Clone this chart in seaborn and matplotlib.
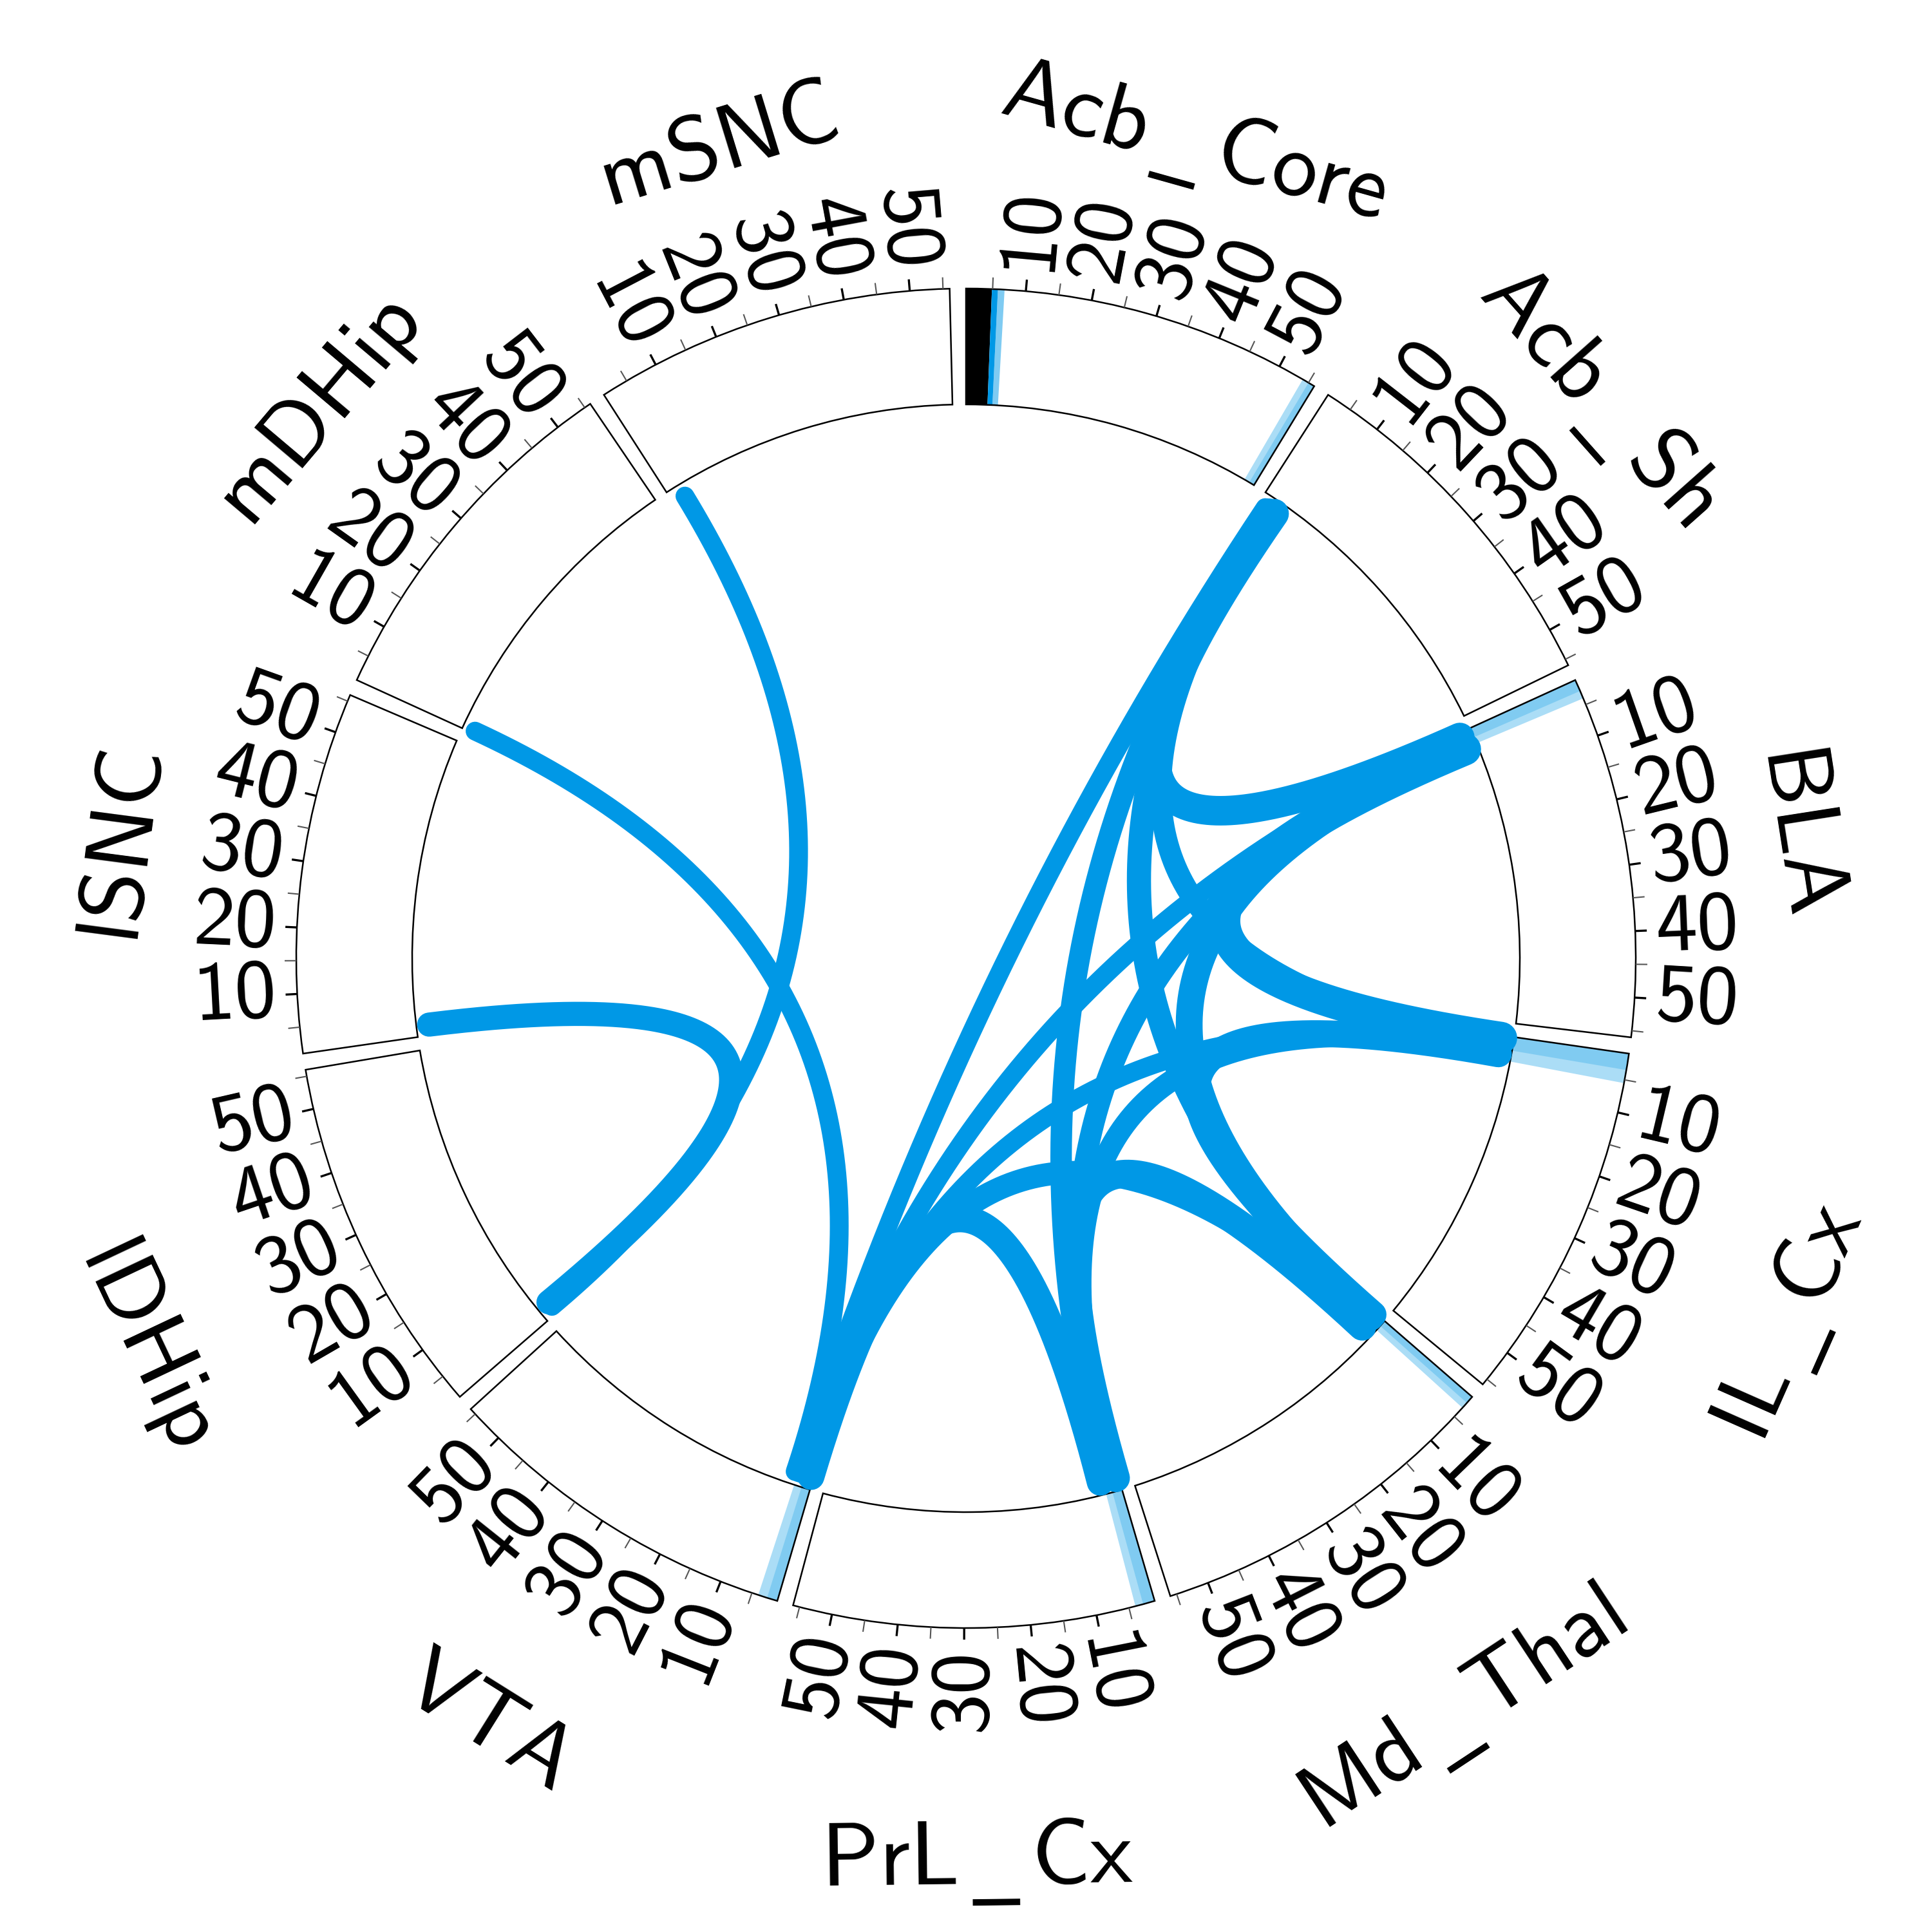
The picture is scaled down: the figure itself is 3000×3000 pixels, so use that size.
import numpy as np
import matplotlib
matplotlib.use("Agg")
import matplotlib.pyplot as plt
import seaborn as sns

# regions, in the order they go round the circle (clockwise from the top)
sectors = ["Acb_Core", "Acb_Sh", "BLA", "IL_Cx", "Md_Thal", "PrL_Cx",
           "VTA", "lDHip", "lSNC", "mDHip", "mSNC"]
axis_min, axis_max = 1, 56
tick_values = [5, 10, 15, 20, 25, 30, 35, 40, 45, 50, 55]
major_ticks = [10, 20, 30, 40, 50]

# links between regions: position on each sector and line width (pt)
link_src = ["Acb_Sh", "Acb_Sh", "Acb_Sh", "Acb_Sh", "Acb_Sh",
            "BLA", "BLA", "BLA", "BLA",
            "IL_Cx", "IL_Cx", "IL_Cx",
            "Md_Thal", "Md_Thal", "PrL_Cx",
            "mSNC", "lSNC", "mDHip"]
link_src_pos = [2.5, 3.0, 3.5, 4.0, 4.5,
                4.2, 3.6, 3.0, 2.5,
                3.0, 3.7, 4.5,
                4.5, 3.7, 4.5,
                3.5, 3.0, 1.5]
link_dst = ["VTA", "PrL_Cx", "Md_Thal", "IL_Cx", "BLA",
            "IL_Cx", "Md_Thal", "PrL_Cx", "VTA",
            "VTA", "PrL_Cx", "Md_Thal",
            "PrL_Cx", "VTA", "VTA",
            "lDHip", "lDHip", "VTA"]
link_dst_pos = [3.9, 3.6, 3.0, 2.3, 1.8,
                1.5, 2.2, 2.9, 3.3,
                2.7, 2.2, 1.5,
                1.5, 2.1, 1.5,
                2.5, 3.5, 4.6]
link_width = [7, 8, 9, 8, 11,
              12, 10, 8, 7,
              7, 8, 10,
              10.5, 8.5, 10,
              7, 9, 7]

# highlighted stretches inside the tracks
band_sector = ["Acb_Core", "Acb_Core", "Acb_Core", "Acb_Core", "Acb_Core",
               "BLA", "BLA", "IL_Cx", "IL_Cx", "Md_Thal", "Md_Thal",
               "PrL_Cx", "PrL_Cx", "VTA", "VTA"]
band_start = [1, 4.9, 5.8, 54, 55,
              1, 1, 1, 1, 1, 1,
              1, 1, 1, 1]
band_end = [4.9, 5.8, 6.8, 56, 56,
            4, 2.8, 5.5, 3.5, 3.2, 2.2,
            4, 2.8, 4, 2.6]
band_alpha = [1, 1, 0.5, 0.33, 0.25,
              0.33, 0.25, 0.33, 0.25, 0.33, 0.25,
              0.33, 0.25, 0.33, 0.25]

blue = sns.color_palette(["#0098E6"])[0]
band_color = ["black"] + [blue] * (len(band_sector) - 1)

sns.set_theme(style="white")
plt.rcParams["font.family"] = ["DejaVu Sans"]
plt.rcParams["mathtext.fontset"] = "cm"
plt.rcParams["text.color"] = "black"

n = len(sectors)
gap_deg = 1.4
slot_deg = 360 / n
deg_per_unit = (slot_deg - gap_deg) / (axis_max - axis_min)
r_in, r_out = 0.86, 1.04
r_link = 0.84


def theta_of(sector, value):
    k = sectors.index(sector)
    return np.deg2rad(k * slot_deg + (value - axis_min) * deg_per_unit)


def pretty(name):
    parts = name.split("_")
    if len(parts) == 1:
        return rf"$\mathsf{{{name}}}$"
    return rf"$\mathsf{{{parts[0]}}}\,$_$\,\mathsf{{{parts[1]}}}$"


fig = plt.figure(figsize=(10, 10), dpi=300)
ax = fig.add_axes([0, 0.004, 1, 1], projection="polar")
ax.set_theta_zero_location("N")
ax.set_theta_direction(-1)

# bands first, outlines on top
for s, a, b, c, al in zip(band_sector, band_start, band_end, band_color, band_alpha):
    t0, t1 = theta_of(s, a), theta_of(s, b)
    ax.bar((t0 + t1) / 2, r_out - r_in, width=t1 - t0, bottom=r_in,
           color=c, alpha=al, linewidth=0, zorder=2)

for s in sectors:
    t0, t1 = theta_of(s, axis_min), theta_of(s, axis_max)
    ax.bar((t0 + t1) / 2, r_out - r_in, width=t1 - t0, bottom=r_in,
           fill=False, edgecolor="black", linewidth=0.6, zorder=3)

    for v in tick_values:
        t = theta_of(s, v)
        major = v in major_ticks
        ax.plot([t, t], [r_out, r_out + 0.018],
                color="black" if major else "#555555",
                lw=0.8 if major else 0.5, solid_capstyle="butt", zorder=3)
        if major:
            ang = 90 - np.rad2deg(t)
            if np.cos(np.deg2rad(ang)) >= 0:
                rot, ha = ang, "left"
            else:
                rot, ha = ang + 180, "right"
            ax.text(t, 1.072, str(v), rotation=rot, family="cmss10",
                    rotation_mode="anchor", ha=ha, va="center", fontsize=31)

    # region name, tangential; baseline kept on a fixed circle
    mid = theta_of(s, (axis_min + axis_max) / 2)
    ang = 90 - np.rad2deg(mid)
    if np.sin(np.deg2rad(ang)) >= 0:
        rot, rr = ang - 90, 1.278
    else:
        rot, rr = ang + 90, 1.437
    ax.text(mid, rr, pretty(s), rotation=rot, rotation_mode="anchor",
            ha="center", va="baseline", fontsize=34)

# links: quadratic curves pulled through the centre
tt = np.linspace(0, 1, 300)
for src, sp, dst, dp, w in zip(link_src, link_src_pos, link_dst, link_dst_pos, link_width):
    a, b = theta_of(src, sp), theta_of(dst, dp)
    x = r_link * ((1 - tt) ** 2 * np.sin(a) + tt ** 2 * np.sin(b))
    y = r_link * ((1 - tt) ** 2 * np.cos(a) + tt ** 2 * np.cos(b))
    sns.lineplot(x=np.arctan2(x, y), y=np.hypot(x, y), ax=ax, sort=False,
                 estimator=None, color=blue, linewidth=w,
                 solid_capstyle="round", zorder=4)

ax.set_ylim(0, 1.5)
ax.set_axis_off()
fig.savefig("out.png", dpi=300)
